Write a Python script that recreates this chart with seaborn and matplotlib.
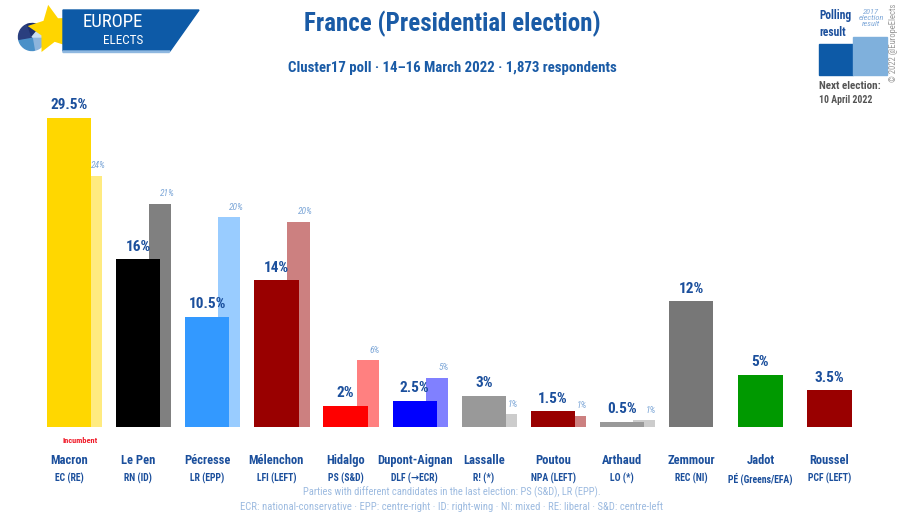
import matplotlib
matplotlib.use('Agg')
import matplotlib.pyplot as plt
import seaborn as sns
import numpy as np
import pandas as pd
from matplotlib.patches import Polygon, Rectangle, Wedge
from matplotlib.colors import to_rgb
from matplotlib import font_manager

candidates = ["Macron", "Le Pen", "Pécresse", "Mélenchon", "Hidalgo", "Dupont-Aignan",
              "Lassalle", "Poutou", "Arthaud", "Zemmour", "Jadot", "Roussel"]
parties = ["EC (RE)", "RN (ID)", "LR (EPP)", "LFI (LEFT)", "PS (S&D)", "DLF (→ECR)",
           "R! (*)", "NPA (LEFT)", "LO (*)", "REC (NI)", "PÉ (Greens/EFA)", "PCF (LEFT)"]
poll = [29.5, 16, 10.5, 14, 2, 2.5, 3, 1.5, 0.5, 12, 5, 3.5]
prev = [24.01, 21.30, 20.01, 19.58, 6.36, 4.70, 1.21, 1.09, 0.64, np.nan, np.nan, np.nan]
colors = ["#FFD700", "#000000", "#3399FF", "#990000", "#FF0000", "#0000FF",
          "#999999", "#990000", "#999999", "#777777", "#009900", "#990000"]

sns.set_style("white")
avail = {f.name for f in font_manager.fontManager.ttflist}
fam = [f for f in ["Roboto Condensed", "Liberation Sans Narrow", "DejaVu Sans Condensed",
                   "Roboto", "DejaVu Sans"] if f in avail]
plt.rcParams['font.family'] = fam

DARK = "#1B4F9C"
LIGHT = "#7FA8D8"

def lighten(c, f=0.5):
    r, g, b = to_rgb(c)
    return (r + (1 - r) * f, g + (1 - g) * f, b + (1 - b) * f)

df = pd.DataFrame({"candidate": candidates, "poll": poll, "prev": prev})

fig = plt.figure(figsize=(9, 5.15), dpi=100)
ax = fig.add_axes([0.0382, 0.171, 0.922, 0.61])

x = np.arange(len(candidates))
prev_arr = np.array(prev, dtype=float)
mask = ~np.isnan(prev_arr)
ax.bar(x[mask] + 0.32, prev_arr[mask], width=0.32,
       color=[lighten(c) for c, m in zip(colors, mask) if m], zorder=1, linewidth=0)
sns.barplot(data=df, x="candidate", y="poll", hue="candidate", palette=colors,
            width=0.64, saturation=1, legend=False, ax=ax, linewidth=0, zorder=2)

ax.set_xlim(-0.5, len(candidates) - 0.5)
ax.set_ylim(0, 30)
ax.set_xticks([])
ax.set_yticks([])
ax.set_xlabel("")
ax.set_ylabel("")
for s in ax.spines.values():
    s.set_visible(False)

for i, v in enumerate(poll):
    ax.annotate(f"{v:g}%", (i, v), xytext=(0, 4), textcoords="offset points",
                ha="center", va="bottom", fontsize=11, fontweight="bold", color=DARK, zorder=5)
for i, v in enumerate(prev):
    if not np.isnan(v):
        ax.annotate(f"{round(v):d}%", (i + 0.42, v), xytext=(0, 4), textcoords="offset points",
                    ha="center", va="bottom", fontsize=6.8, fontstyle="italic", color=LIGHT, zorder=5)

for i, (c, p) in enumerate(zip(candidates, parties)):
    ax.annotate(c, (i, 0), xytext=(0, -24), textcoords="offset points", ha="center",
                va="center", fontsize=9, fontweight="bold", color=DARK, annotation_clip=False)
    ax.annotate(p, (i, 0), xytext=(0, -37), textcoords="offset points", ha="center",
                va="center", fontsize=7, fontweight="bold", color=DARK, annotation_clip=False)
ax.annotate("Incumbent", (0, 0), xytext=(8, -10), textcoords="offset points", ha="center",
            va="center", fontsize=6, fontweight="bold", color="#F01E2C", annotation_clip=False)

def fy(py):
    return 1 - py / 515

fig.text(452 / 900, fy(24), "France (Presidential election)", ha="center", va="center",
         fontsize=18, fontweight="bold", color="#1A5BA6")
fig.text(452 / 900, fy(68), "Cluster17 poll · 14–16 March 2022 · 1,873 respondents",
         ha="center", va="center", fontsize=10.7, fontweight="bold", color="#1A5BA6")
fig.text(452 / 900, fy(492), "Parties with different candidates in the last election: PS (S&D), LR (EPP).",
         ha="center", va="center", fontsize=7.6, color="#9DBBE0")
fig.text(452 / 900, fy(507),
         "ECR: national-conservative · EPP: centre-right · ID: right-wing · NI: mixed · RE: liberal · S&D: centre-left",
         ha="center", va="center", fontsize=7.7, color="#9DBBE0")

# legend top right
fig.patches.append(Rectangle((819 / 900, fy(75)), 34 / 900, 31 / 515, transform=fig.transFigure,
                             color="#0D5AA7", zorder=1))
fig.patches.append(Rectangle((853 / 900, fy(75)), 34 / 900, 38 / 515, transform=fig.transFigure,
                             color="#7FB0DC", zorder=1))
fig.text(819 / 900, fy(24), "Polling\nresult", ha="left", va="center", fontsize=8.3,
         fontweight="bold", color=DARK, linespacing=1.35)
fig.text(871 / 900, fy(18), "2017\nelection\nresult", ha="center", va="center", fontsize=6,
         fontstyle="italic", color=LIGHT, linespacing=1.1)
fig.text(819 / 900, fy(86), "Next election:", ha="left", va="center", fontsize=8,
         fontweight="bold", color="#555555")
fig.text(819 / 900, fy(100), "10 April 2022", ha="left", va="center", fontsize=7,
         fontweight="bold", color="#555555")
fig.text(894 / 900, fy(43), "© 2022 @EuropeElects", ha="center", va="center", fontsize=6.2,
         color="#999999", rotation=90)

# logo
fig.patches.append(Polygon([(63 / 900, fy(10)), (199 / 900, fy(10)), (170 / 900, fy(51)),
                            (63 / 900, fy(51))], closed=True, transform=fig.transFigure,
                           color="#0D5AA7", zorder=1))
fig.patches.append(Polygon([(63 / 900, fy(51)), (170 / 900, fy(51)), (169 / 900, fy(52.5)),
                            (63 / 900, fy(52.5))], closed=True, transform=fig.transFigure,
                           color="#8FB8E0", zorder=1))
lax = fig.add_axes([0, fy(60), 120 / 900, 60 / 515])
lax.set_xlim(0, 120)
lax.set_ylim(60, 0)
lax.set_aspect("equal")
lax.axis("off")
pie_cols = ["#8DB4DC", "#4A90C8", "#2A3F7F", "#1E2F6B", "#C9DDF0"]
angles = [0, 80, 170, 250, 310, 360]
for k in range(5):
    lax.add_patch(Wedge((32, 37), 13.5, angles[k], angles[k + 1], color=pie_cols[k], zorder=2))
lax.scatter([52], [29], marker=(5, 1, 10), s=1300, color="#FFD500", zorder=3, linewidths=0)
fig.text(113 / 900, fy(22), "EUROPE", ha="center", va="center", fontsize=13.5, color="white")
fig.text(123 / 900, fy(40), "ELECTS", ha="center", va="center", fontsize=9.5, color="white")

fig.savefig("out.png", dpi=100)
